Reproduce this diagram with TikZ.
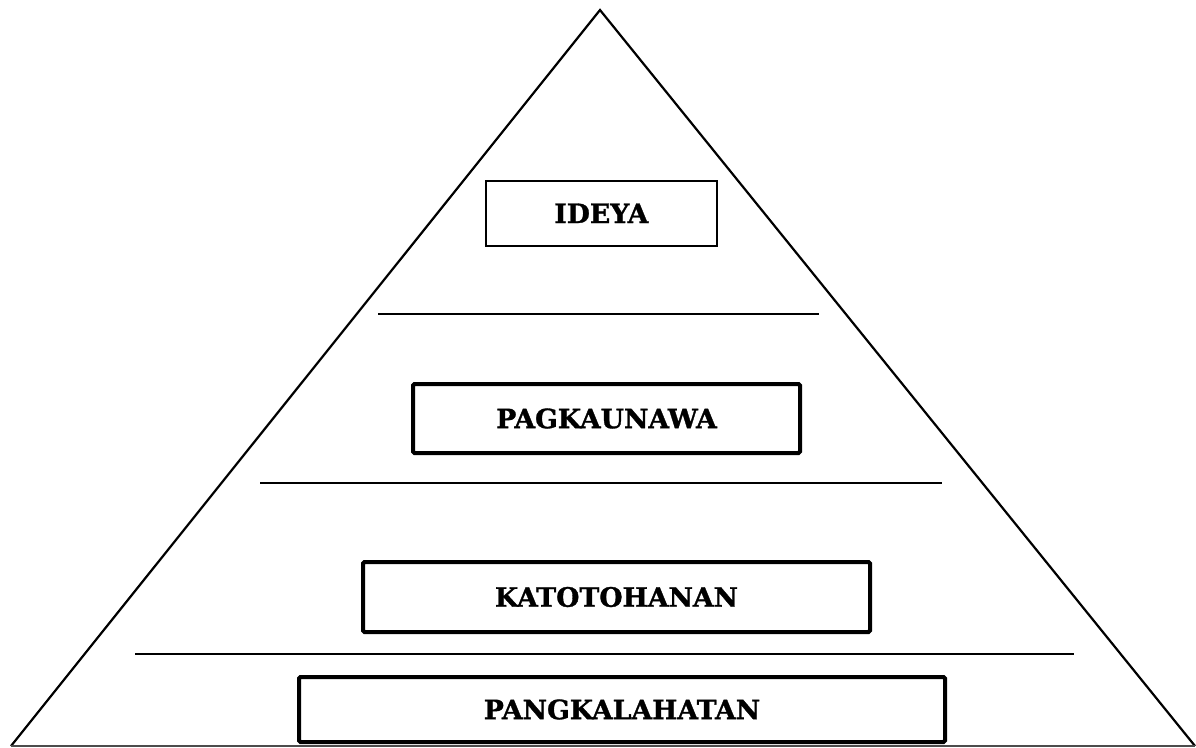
\documentclass[tikz,border=0pt]{standalone}
\usepackage{fontspec}
\setmainfont{DejaVu Serif}[BoldFeatures={FakeBold=1.2}]
\tikzset{
  lbl/.style={font=\fontsize{26.7}{30}\selectfont\bfseries},
  thickbox/.style={draw, line width=4pt, rounded corners=1.5pt, inner sep=0pt, anchor=north west},
  thinbox/.style={draw, line width=1.6pt, inner sep=0pt, anchor=north west},
  tri/.style={line width=2.2pt},
  sep/.style={line width=1.2pt}
}
\begin{document}
\begin{tikzpicture}[x=1pt,y=-1pt]
\useasboundingbox (0,0) rectangle (1196,747);
\coordinate (apex) at (600,10);
\coordinate (bl) at (11,746);
\coordinate (br) at (1195,746);
\draw[tri] (bl) -- (apex) -- (br);
\draw[line width=1.5pt, black!70] (bl) -- (br);
\node[thinbox, minimum width=231pt, minimum height=65pt] (ideya) at (485,180) {};
\node[lbl] at (ideya.center) {IDEYA};
\node[thickbox, minimum width=387pt, minimum height=69pt] (pag) at (411,382) {};
\node[lbl] at (pag.center) {PAGKAUNAWA};
\node[thickbox, minimum width=507pt, minimum height=70pt] (kat) at (361,560) {};
\node[lbl] at (kat.center) {KATOTOHANAN};
\node[thickbox, minimum width=646pt, minimum height=65pt] (pan) at (297,675) {};
\node[lbl] at (pan.center) {PANGKALAHATAN};
\coordinate (l1a) at (378,314); \coordinate (l1b) at (819,314);
\coordinate (l2a) at (260,483); \coordinate (l2b) at (942,483);
\coordinate (l3a) at (135,654); \coordinate (l3b) at (1074,654);
\draw[sep] (l1a) -- (l1b);
\draw[sep] (l2a) -- (l2b);
\draw[sep] (l3a) -- (l3b);
\end{tikzpicture}
\end{document}
